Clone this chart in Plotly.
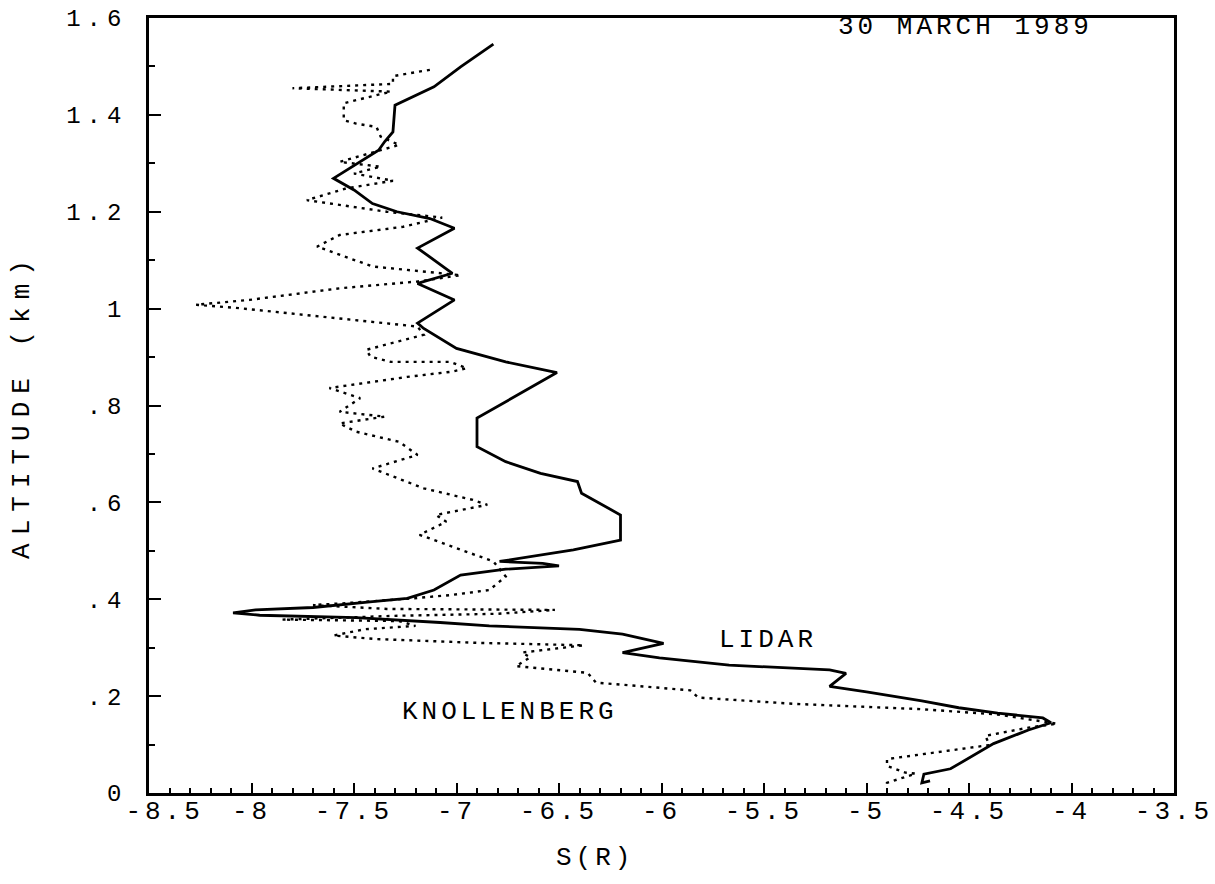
import plotly.graph_objects as go

# ---------------- data ----------------
lidar_s = [-6.82, -6.98, -7.11, -7.30, -7.31, -7.35, -7.38, -7.60, -7.50, -7.41,
           -7.29, -7.13, -7.01, -7.19, -7.02, -7.19, -7.01, -7.19, -7.16, -7.00,
           -6.76, -6.51, -6.90, -6.90, -6.76, -6.59, -6.41, -6.39, -6.20, -6.20,
           -6.43, -6.67, -6.79, -6.58, -6.50, -6.76, -6.98, -7.11, -7.24, -7.41,
           -7.70, -7.98, -8.09, -7.96, -7.73, -7.49, -7.08, -6.84, -6.40, -6.19,
           -5.99, -6.19, -6.01, -5.67, -5.18, -5.10, -5.18, -5.00, -4.73, -4.55,
           -4.36, -4.14, -4.10, -4.21, -4.38, -4.59, -4.72, -4.73, -4.69]
lidar_alt = [1.546, 1.499, 1.458, 1.420, 1.365, 1.345, 1.327, 1.269, 1.245, 1.217,
             1.200, 1.186, 1.166, 1.125, 1.073, 1.052, 1.018, 0.970, 0.959, 0.918,
             0.890, 0.868, 0.774, 0.715, 0.684, 0.660, 0.643, 0.619, 0.574, 0.522,
             0.502, 0.485, 0.478, 0.474, 0.469, 0.462, 0.450, 0.419, 0.402, 0.395,
             0.383, 0.378, 0.372, 0.367, 0.364, 0.362, 0.352, 0.345, 0.338, 0.328,
             0.309, 0.290, 0.279, 0.264, 0.254, 0.247, 0.220, 0.209, 0.190, 0.176,
             0.165, 0.155, 0.145, 0.130, 0.102, 0.050, 0.039, 0.021, 0.025]

knoll_s = [-7.13, -7.31, -7.31, -7.80, -7.32, -7.55, -7.55, -7.49, -7.39, -7.37,
           -7.28, -7.37, -7.57, -7.37, -7.50, -7.31, -7.54, -7.73, -7.34, -7.07,
           -7.26, -7.57, -7.68, -7.41, -6.98, -7.19, -7.57, -8.01, -8.27, -8.06,
           -7.19, -7.16, -7.44, -7.42, -7.32, -7.03, -6.95, -7.02, -7.24, -7.62,
           -7.47, -7.57, -7.35, -7.57, -7.49, -7.28, -7.19, -7.41, -7.16, -6.92,
           -6.85, -7.10, -7.05, -7.18, -6.82, -6.76, -6.84, -7.02, -7.21, -7.54,
           -7.70, -7.34, -6.52, -6.80, -7.28, -7.85, -7.28, -7.20, -7.45, -7.60,
           -7.40, -6.90, -6.38, -6.68, -6.64, -6.71, -6.36, -6.32, -5.86, -5.82,
           -5.35, -4.73, -4.36, -4.07, -4.21, -4.42, -4.40, -4.90, -4.90, -4.81,
           -4.76, -4.90, -4.90]
knoll_alt = [1.493, 1.480, 1.464, 1.455, 1.448, 1.424, 1.389, 1.382, 1.375, 1.355,
             1.338, 1.327, 1.303, 1.293, 1.279, 1.264, 1.248, 1.224, 1.200, 1.188,
             1.169, 1.152, 1.128, 1.087, 1.069, 1.056, 1.042, 1.018, 1.008, 1.001,
             0.963, 0.946, 0.915, 0.901, 0.890, 0.890, 0.877, 0.870, 0.859, 0.836,
             0.815, 0.787, 0.777, 0.763, 0.746, 0.725, 0.698, 0.670, 0.629, 0.605,
             0.595, 0.574, 0.560, 0.533, 0.478, 0.447, 0.419, 0.409, 0.402, 0.392,
             0.388, 0.380, 0.378, 0.370, 0.366, 0.358, 0.355, 0.345, 0.338, 0.325,
             0.318, 0.310, 0.305, 0.290, 0.280, 0.262, 0.248, 0.228, 0.212, 0.197,
             0.184, 0.173, 0.162, 0.143, 0.135, 0.118, 0.099, 0.070, 0.056, 0.042,
             0.040, 0.021, 0.010]

x_tickvals = [-8.5, -8, -7.5, -7, -6.5, -6, -5.5, -5, -4.5, -4, -3.5]
x_ticktext = ["-8.5", "-8", "-7.5", "-7", "-6.5", "-6", "-5.5", "-5", "-4.5", "-4", "-3.5"]
y_tickvals = [0, 0.2, 0.4, 0.6, 0.8, 1.0, 1.2, 1.4, 1.6]
y_ticktext = ["0", ".2", ".4", ".6", ".8", "1", "1.2", "1.4", "1.6"]

date_label = "30 MARCH 1989"
lidar_label = "LIDAR"
knoll_label = "KNOLLENBERG"
x_title = "S(R)"
y_title = "ALTITUDE (km)"

FONT = "Liberation Mono"
SP = "letter-spacing:4px"


def spaced(t, sp=SP):
    return f'<span style="{sp}">{t}</span>'


# the first x label sits a little right of its tick, as in the reference
x_ticklabels = [spaced(t) for t in x_ticktext]
x_ticklabels[0] = "\u00a0\u00a0" + x_ticklabels[0]

fig = go.Figure()
fig.add_trace(go.Scatter(x=knoll_s, y=knoll_alt, mode="lines", name=knoll_label,
                         line=dict(color="black", width=2.4, dash="3px,5px"),
                         showlegend=False))
fig.add_trace(go.Scatter(x=lidar_s, y=lidar_alt, mode="lines", name=lidar_label,
                         line=dict(color="black", width=2.8),
                         showlegend=False))

TF = dict(family=FONT, size=26, color="black")
fig.add_annotation(text=spaced(date_label), xref="paper", yref="paper",
                   x=0.797, y=0.988, xanchor="center", yanchor="middle",
                   showarrow=False, font=TF)
fig.add_annotation(text=spaced(lidar_label), xref="paper", yref="paper",
                   x=0.604, y=0.197, xanchor="center", yanchor="middle",
                   showarrow=False, font=TF)
fig.add_annotation(text=spaced(knoll_label), xref="paper", yref="paper",
                   x=0.352, y=0.104, xanchor="center", yanchor="middle",
                   showarrow=False, font=TF)
# x-axis title (placed left of centre, as in the reference)
fig.add_annotation(text=spaced(x_title), xref="paper", yref="paper",
                   x=0.435, y=-0.084, xanchor="center", yanchor="middle",
                   showarrow=False, font=TF)

fig.update_xaxes(
    range=[-8.5, -3.5], tickvals=x_tickvals,
    ticktext=x_ticklabels,
    ticks="inside", ticklen=10, tickwidth=2, tickcolor="black",
    minor=dict(dtick=0.1, ticks="inside", ticklen=5, tickwidth=1.5, tickcolor="black"),
    showline=True, linecolor="black", linewidth=2.5, mirror=True,
    showgrid=False, zeroline=False,
    tickfont=dict(family=FONT, size=26, color="black"),
    ticklabelstandoff=-8,
    ticklabeloverflow="allow",
)
fig.update_yaxes(
    range=[0, 1.6], tickvals=y_tickvals,
    ticktext=[spaced(t, "letter-spacing:6px") for t in y_ticktext],
    ticks="inside", ticklen=12, tickwidth=2, tickcolor="black",
    minor=dict(dtick=0.1, ticks="inside", ticklen=6, tickwidth=1.5, tickcolor="black"),
    showline=True, linecolor="black", linewidth=2.5, mirror=True,
    showgrid=False, zeroline=False,
    tickfont=dict(family=FONT, size=24, color="black"),
    ticklabelstandoff=14,
    ticklabeloverflow="allow",
    title=dict(text=spaced(y_title, "letter-spacing:8px"),
               font=dict(family=FONT, size=26, color="black"), standoff=30),
)

fig.update_layout(
    width=1215, height=884,
    margin=dict(l=149, r=41, t=18, b=91, autoexpand=False),
    paper_bgcolor="white", plot_bgcolor="white",
)

fig.write_html("out.html", config={"displayModeBar": False},
               post_script="document.body.style.margin='0';document.body.style.overflow='hidden';")
